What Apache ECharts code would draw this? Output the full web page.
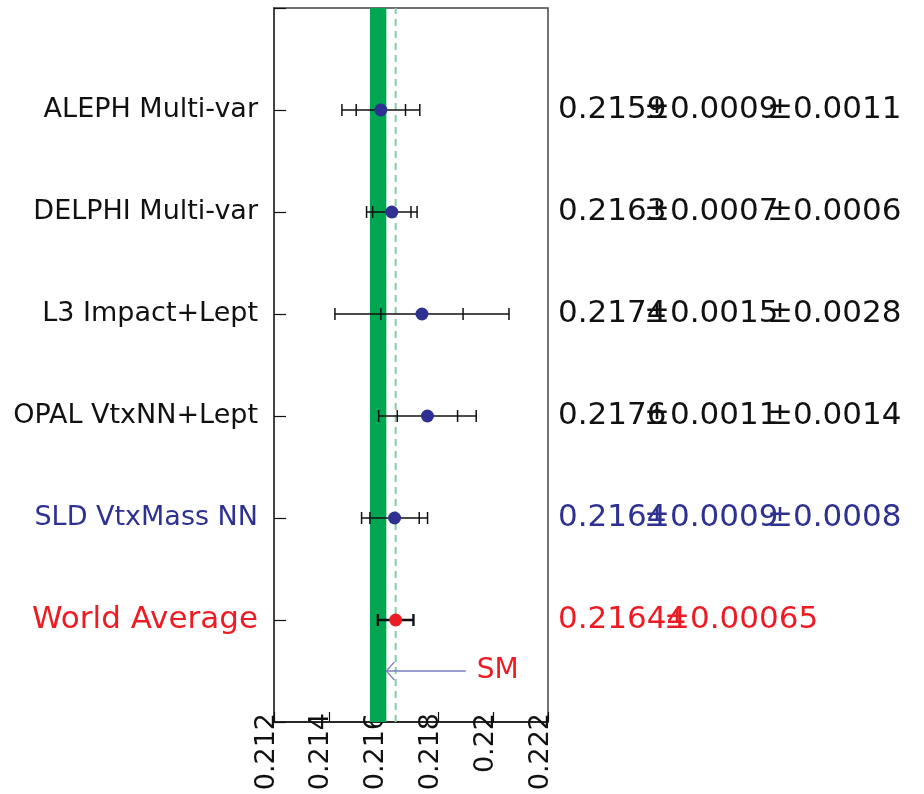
<!DOCTYPE html>
<html>
<head>
<meta charset="utf-8">
<script src="https://cdn.jsdelivr.net/npm/echarts@6/dist/echarts.min.js"></script>
<style>
  html, body { margin: 0; padding: 0; background: #fff; }
  #chart { width: 924px; height: 794px; }
</style>
</head>
<body>
<div id="chart"></div>
<script>
// R_b measurements, listed top to bottom
const experiments = ['ALEPH Multi-var', 'DELPHI Multi-var', 'L3 Impact+Lept', 'OPAL VtxNN+Lept', 'SLD VtxMass NN', 'World Average'];
const rbValues   = [0.2159, 0.2163, 0.2174, 0.2176, 0.2164, 0.21644];
const statErrors = [0.0009, 0.0007, 0.0015, 0.0011, 0.0009, 0.00065];
const systErrors = [0.0011, 0.0006, 0.0028, 0.0014, 0.0008, null];
const xTicks = [0.212, 0.214, 0.216, 0.218, 0.22, 0.222];
// Standard Model prediction band
const smBand = [0.2155, 0.2161];
const smLabel = 'SM';
const smArrowEnd = 0.219;
const smRow = 0.5;
const yRange = [0, 7];

const BLACK = '#111';
const BLUE = '#2e3192';
const RED = '#ed1c24';
const GREEN = '#00a651';
const FONT = '"DejaVu Sans", sans-serif';
const rowColors = [BLACK, BLACK, BLACK, BLACK, BLUE, RED];

const nRows = experiments.length;
const rowOf = i => nRows - i;
const worldAverage = rbValues[nRows - 1];

// [value, row, stat, total, isAverage]
const barData = experiments.map((name, i) => {
  const stat = statErrors[i];
  const syst = systErrors[i];
  const total = syst == null ? stat : Math.sqrt(stat * stat + syst * syst);
  return [rbValues[i], rowOf(i), stat, total, syst == null ? 1 : 0];
});

const rich = {};
experiments.forEach((name, i) => {
  rich['r' + i] = {
    color: rowColors[i],
    fontFamily: FONT,
    fontSize: i === nRows - 1 ? 31 : 27
  };
});

const chart = echarts.init(document.getElementById('chart'), null, { renderer: 'canvas' });

chart.setOption({
  animation: false,
  backgroundColor: '#fff',
  grid: { left: 274, right: 376, top: 8, bottom: 72, show: true, borderColor: '#444', borderWidth: 1.5 },
  xAxis: {
    type: 'value', min: 0.212, max: 0.222, interval: 0.002,
    axisLine: { lineStyle: { color: BLACK, width: 1.5 } },
    axisTick: { inside: true, length: 10, lineStyle: { color: BLACK, width: 1.2 } },
    splitLine: { show: false },
    axisLabel: {
      rotate: 90, margin: -9, fontSize: 27, fontFamily: FONT, color: BLACK,
      verticalAlign: 'bottom', lineHeight: 15,
      formatter: v => {
        const t = xTicks.find(t => Math.abs(t - v) < 1e-9);
        return t == null ? '' : String(t);
      }
    }
  },
  yAxis: {
    type: 'value', min: yRange[0], max: yRange[1], interval: 1,
    axisLine: { show: true, lineStyle: { color: '#444', width: 2 } },
    axisTick: { show: true, inside: true, length: 12, lineStyle: { color: BLACK, width: 1.2 } },
    splitLine: { show: false },
    axisLabel: {
      margin: 16,
      formatter: v => {
        const i = nRows - v;
        if (v <= 0 || i < 0 || i >= nRows) return '';
        return '{r' + i + '|' + experiments[i] + '}';
      },
      rich: rich
    }
  },
  series: [
    {
      // dashed reference line at the world average
      type: 'custom',
      data: [[worldAverage, yRange[0], yRange[1]]],
      encode: { x: 0, y: 1 },
      z: 2,
      silent: true,
      renderItem: (params, api) => {
        const p0 = api.coord([api.value(0), api.value(1)]);
        const p1 = api.coord([api.value(0), api.value(2)]);
        return {
          type: 'line',
          shape: { x1: p0[0], y1: p0[1], x2: p1[0], y2: p1[1] },
          style: { stroke: '#7fd0a3', lineWidth: 2, lineDash: [7, 5] }
        };
      }
    },
    {
      // error bars: inner ticks = stat, outer ticks = total
      type: 'custom',
      data: barData,
      encode: { x: 0, y: 1 },
      clip: false,
      z: 3,
      renderItem: (params, api) => {
        const x = api.value(0), y = api.value(1);
        const stat = api.value(2), total = api.value(3), avg = api.value(4);
        const c = v => api.coord([v, y]);
        const lw = avg ? 2.4 : 1.5;
        const h = 6;
        const children = [];
        const a = c(x - total), b = c(x + total);
        children.push({ type: 'line', shape: { x1: a[0], y1: a[1], x2: b[0], y2: b[1] }, style: { stroke: BLACK, lineWidth: lw } });
        const ticks = [x - stat, x + stat];
        if (!avg) ticks.push(x - total, x + total);
        ticks.forEach(v => {
          const p = c(v);
          children.push({ type: 'line', shape: { x1: p[0], y1: p[1] - h, x2: p[0], y2: p[1] + h }, style: { stroke: BLACK, lineWidth: lw } });
        });
        return { type: 'group', children };
      }
    },
    {
      type: 'scatter',
      data: barData.map(d => [d[0], d[1]]),
      symbol: 'circle',
      symbolSize: 13,
      itemStyle: { color: p => (p.dataIndex === nRows - 1 ? RED : BLUE), opacity: 1 },
      z: 4,
      // SM prediction band
      markArea: {
        silent: true,
        z: 1,
        itemStyle: { color: GREEN, opacity: 1 },
        data: [[{ xAxis: smBand[0] }, { xAxis: smBand[1] }]]
      }
    },
    {
      // SM arrow pointing at the band
      type: 'custom',
      data: [[smBand[1], smRow, smArrowEnd]],
      encode: { x: 0, y: 1 },
      clip: false,
      z: 5,
      renderItem: (params, api) => {
        const tip = api.coord([api.value(0), api.value(1)]);
        const end = api.coord([api.value(2), api.value(1)]);
        const col = '#7a7ec2';
        return {
          type: 'group',
          children: [
            { type: 'line', shape: { x1: tip[0], y1: tip[1], x2: end[0], y2: end[1] }, style: { stroke: col, lineWidth: 1.5 } },
            { type: 'polyline', shape: { points: [[tip[0] + 8, tip[1] - 9], [tip[0], tip[1]], [tip[0] + 8, tip[1] + 9]] }, style: { stroke: col, lineWidth: 1.2, fill: null } },
            { type: 'text', style: { text: smLabel, x: end[0] + 11, y: end[1], fill: RED, fontSize: 28, fontFamily: FONT, verticalAlign: 'middle' } }
          ]
        };
      }
    }
  ]
});

// measured values with their errors, to the right of the frame
const textCols = [558, 644, 767];
const graphics = [];
experiments.forEach((name, i) => {
  const y = chart.convertToPixel({ yAxisIndex: 0 }, rowOf(i));
  const parts = [String(rbValues[i]), '\u00b1' + statErrors[i]];
  if (systErrors[i] != null) parts.push('\u00b1' + systErrors[i]);
  const cols = systErrors[i] != null ? textCols : [textCols[0], 664];
  parts.forEach((t, k) => {
    graphics.push({
      type: 'text', silent: true, z: 10,
      style: { text: t, x: cols[k], y: y, fill: rowColors[i], fontSize: 31, fontFamily: FONT, verticalAlign: 'middle' }
    });
  });
});
chart.setOption({ graphic: graphics });
</script>
</body>
</html>
